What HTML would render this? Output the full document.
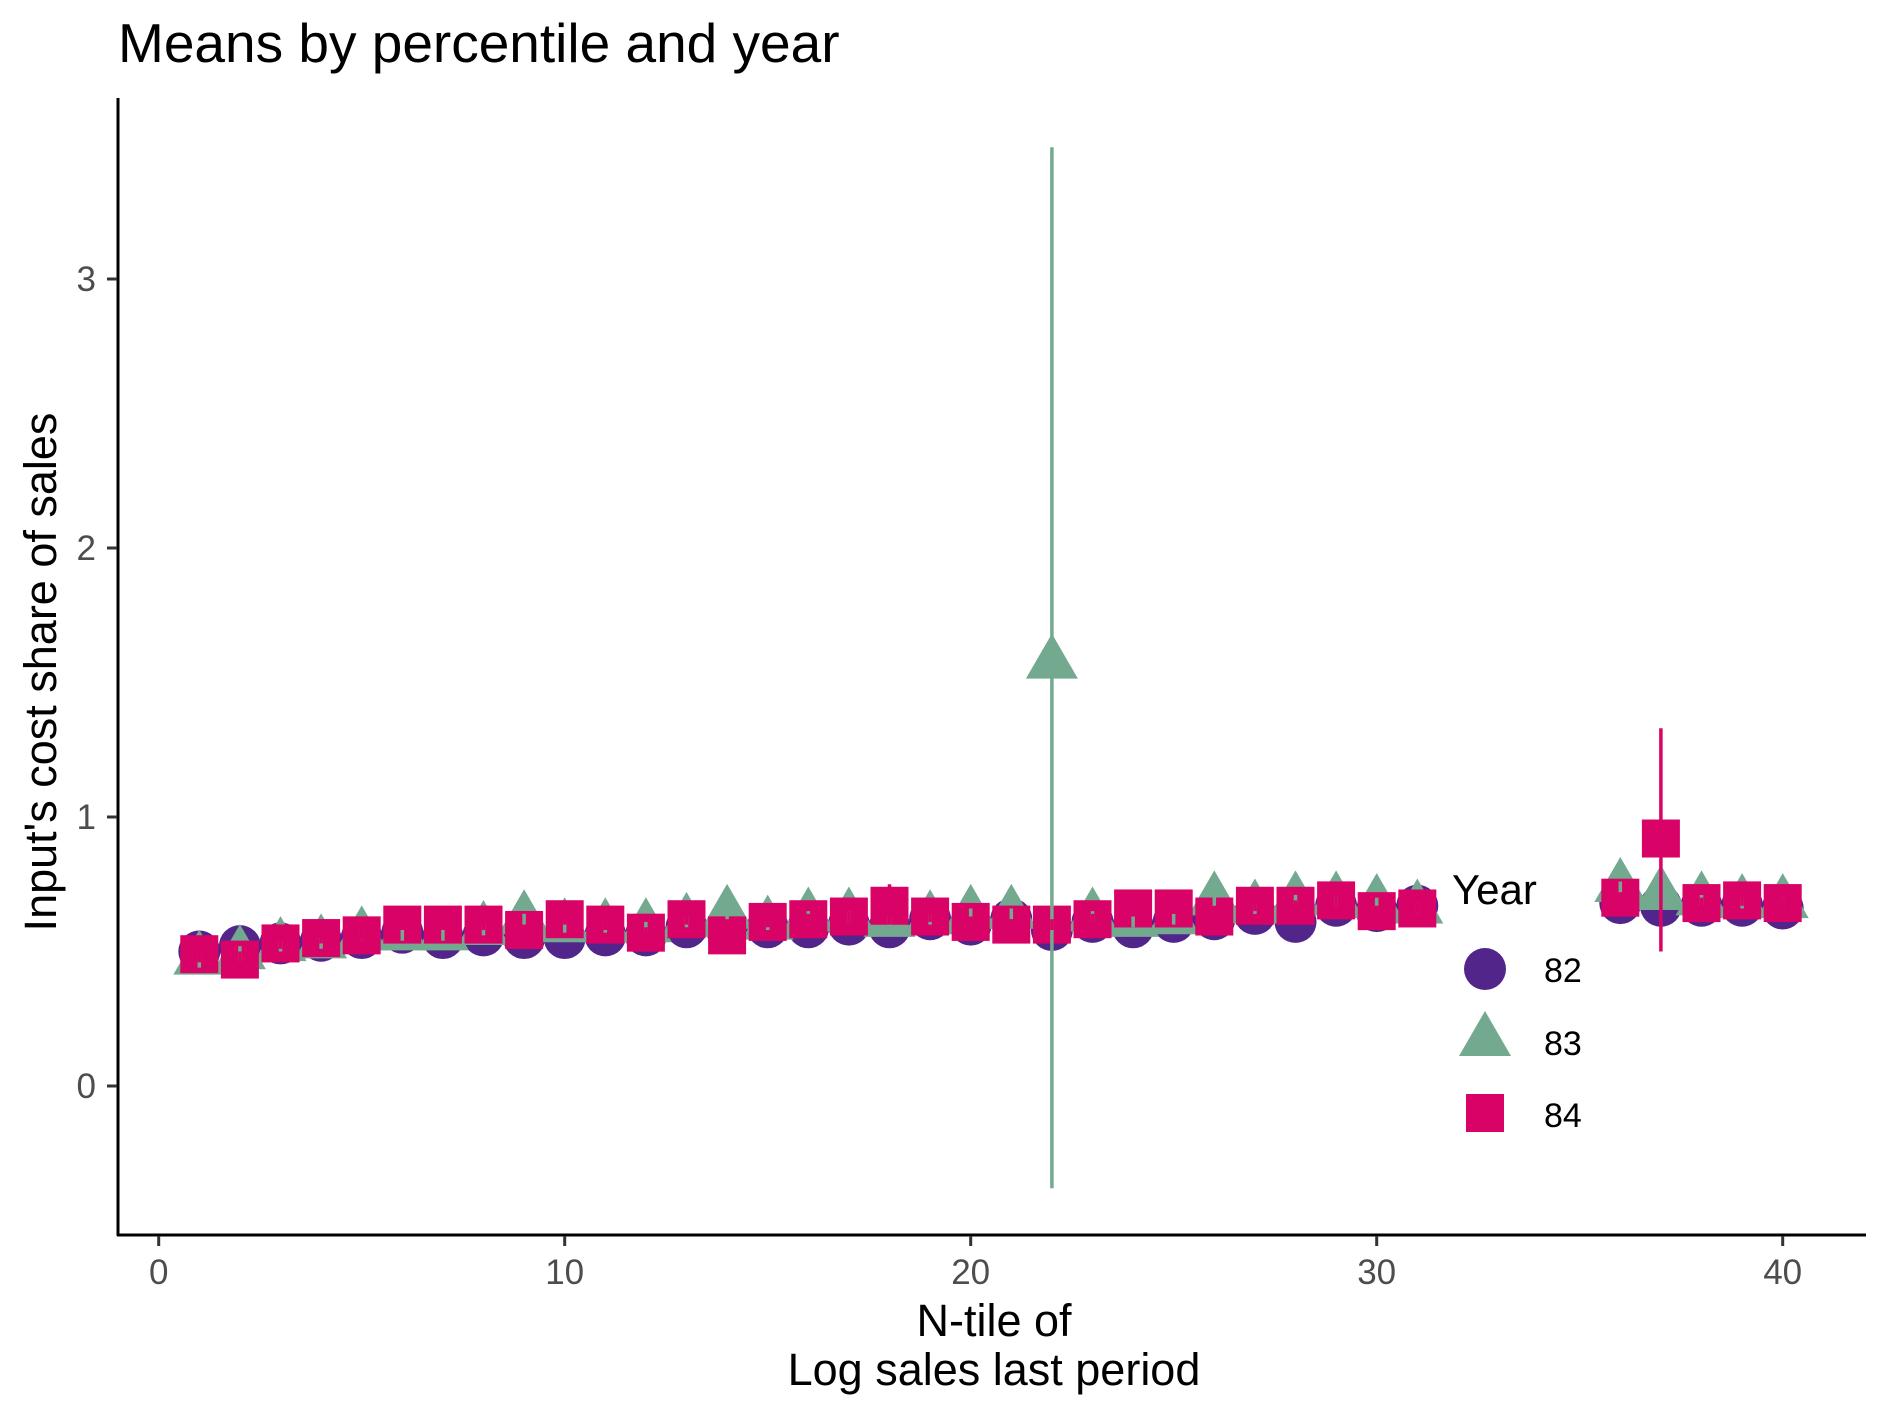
<!DOCTYPE html>
<html><head><meta charset="utf-8"><style>
html,body{margin:0;padding:0;background:#fff;}
svg{display:block;font-family:"Liberation Sans",Arial,sans-serif;}
</style></head><body>
<svg id="chart" width="1889" height="1417" viewBox="0 0 1889 1417">
<text x="118" y="62" font-size="55" fill="#000">Means by percentile and year</text>
<g id="axes"></g>
<g id="points"></g>
<g id="ebars"></g>
<text transform="translate(56,672) rotate(-90)" text-anchor="middle" font-size="45" fill="#000">Input's cost share of sales</text>
<text x="994" y="1336" text-anchor="middle" font-size="45" fill="#000">N-tile of</text>
<text x="994" y="1385" text-anchor="middle" font-size="45" fill="#000">Log sales last period</text>
<g>
<text x="1452" y="904" font-size="42" fill="#000">Year</text>
<circle cx="1485" cy="969" r="21" fill="#51258a"/>
<text x="1544" y="982" font-size="34" fill="#000">82</text>
<polygon points="1459,1056 1511,1056 1485,1011" fill="#72a98f"/>
<text x="1544" y="1055" font-size="34" fill="#000">83</text>
<rect x="1466" y="1094" width="38" height="38" fill="#d90368"/>
<text x="1544" y="1127" font-size="34" fill="#000">84</text>
</g>
</svg>
<script>
const xsA = [1,2,3,4,5,6,7,8,9,10,11,12,13,14,15,16,17,18,19,20,21,22,23,24,25,26,27,28,29,30,31,36,37,38,39,40];
const y82 = [0.50,0.52,0.53,0.54,0.55,0.57,0.55,0.56,0.55,0.55,0.56,0.56,0.59,0.58,0.59,0.59,0.60,0.59,0.62,0.60,0.62,0.58,0.61,0.59,0.61,0.62,0.64,0.61,0.67,0.65,0.67,0.68,0.67,0.67,0.67,0.66];
const y83 = [0.47,0.49,0.52,0.53,0.56,0.56,0.56,0.58,0.62,0.59,0.59,0.59,0.61,0.64,0.60,0.63,0.63,0.61,0.62,0.64,0.64,1.57,0.63,0.61,0.62,0.69,0.66,0.69,0.69,0.68,0.66,0.74,0.71,0.69,0.68,0.68];
const y84 = [0.49,0.47,0.53,0.55,0.56,0.60,0.60,0.60,0.58,0.62,0.60,0.57,0.62,0.56,0.61,0.62,0.63,0.67,0.63,0.61,0.60,0.60,0.62,0.66,0.66,0.63,0.67,0.67,0.69,0.65,0.66,0.70,0.92,0.68,0.69,0.68];
const lo83 = [0.44,0.46,0.50,0.51,0.54,0.54,0.54,0.56,0.60,0.57,0.57,0.57,0.59,0.62,0.58,0.61,0.61,0.59,0.60,0.62,0.62,-0.38,0.61,0.59,0.60,0.67,0.64,0.67,0.67,0.66,0.64,0.72,0.69,0.67,0.66,0.66];
const hi83 = [0.50,0.52,0.54,0.55,0.58,0.58,0.58,0.60,0.64,0.61,0.61,0.61,0.63,0.66,0.62,0.65,0.65,0.63,0.64,0.66,0.66,3.49,0.65,0.63,0.64,0.71,0.68,0.71,0.71,0.70,0.68,0.76,0.73,0.71,0.70,0.70];
const lo84 = [0.46,0.44,0.51,0.53,0.54,0.58,0.58,0.58,0.56,0.60,0.58,0.55,0.60,0.54,0.59,0.60,0.61,0.60,0.61,0.59,0.58,0.58,0.60,0.64,0.64,0.61,0.65,0.65,0.67,0.63,0.64,0.68,0.50,0.66,0.67,0.66];
const hi84 = [0.52,0.50,0.55,0.57,0.58,0.62,0.62,0.62,0.60,0.64,0.62,0.59,0.64,0.58,0.63,0.64,0.65,0.75,0.65,0.63,0.62,0.62,0.64,0.68,0.68,0.65,0.69,0.69,0.71,0.67,0.68,0.72,1.33,0.70,0.71,0.70];
const xTicks = [0,10,20,30,40];
const yTicks = [0,1,2,3];

const NS = 'http://www.w3.org/2000/svg';
const X = v => 158.7 + v * 40.6;
const Y = v => 1086 - v * 269;
function mk(tag, attrs, parent){const e=document.createElementNS(NS,tag);for(const k in attrs)e.setAttribute(k,attrs[k]);parent.appendChild(e);return e;}
const axes = document.getElementById('axes');
let e;
e = mk('line',{x1:118,y1:98,x2:118,y2:1236,stroke:'#000','stroke-width':3},axes);


e = mk('line',{x1:117,y1:1235,x2:1866,y2:1235,stroke:'#000','stroke-width':3},axes);


xTicks.forEach(t=>{
  e = mk('line',{x1:X(t),y1:1236,x2:X(t),y2:1246,stroke:'#333','stroke-width':3},axes);
  
  
  e = mk('text',{x:X(t),y:1284,'text-anchor':'middle','font-size':35,fill:'#4d4d4d'},axes);
  e.textContent = t;
  
  
});
yTicks.forEach(t=>{
  e = mk('line',{x1:107,y1:Y(t),x2:117,y2:Y(t),stroke:'#333','stroke-width':3},axes);
  
  
  e = mk('text',{x:96,y:Y(t)+12,'text-anchor':'end','font-size':35,fill:'#4d4d4d'},axes);
  e.textContent = t;
  
  
});
const pts = document.getElementById('points');
xsA.forEach((x,i)=>{
  e = mk('circle',{cx:X(x),cy:Y(y82[i]),r:21,fill:'#51258a'},pts);
  
  
});
xsA.forEach((x,i)=>{
  const cx=X(x), cy=Y(y83[i]);
  e = mk('polygon',{points:`${cx-26},${cy+15} ${cx+26},${cy+15} ${cx},${cy-30}`,fill:'#72a98f'},pts);
  
  
});
xsA.forEach((x,i)=>{
  e = mk('rect',{x:X(x)-19,y:Y(y84[i])-19,width:38,height:38,fill:'#d90368'},pts);
  
  
});
const eb = document.getElementById('ebars');
xsA.forEach((x,i)=>{
  e = mk('line',{x1:X(x),y1:Y(lo83[i]),x2:X(x),y2:Y(hi83[i]),stroke:'#72a98f','stroke-width':3.5},eb);
  
  
});
xsA.forEach((x,i)=>{
  e = mk('line',{x1:X(x),y1:Y(lo84[i]),x2:X(x),y2:Y(hi84[i]),stroke:'#d90368','stroke-width':3.5},eb);
  
  
});
</script>
</body></html>
